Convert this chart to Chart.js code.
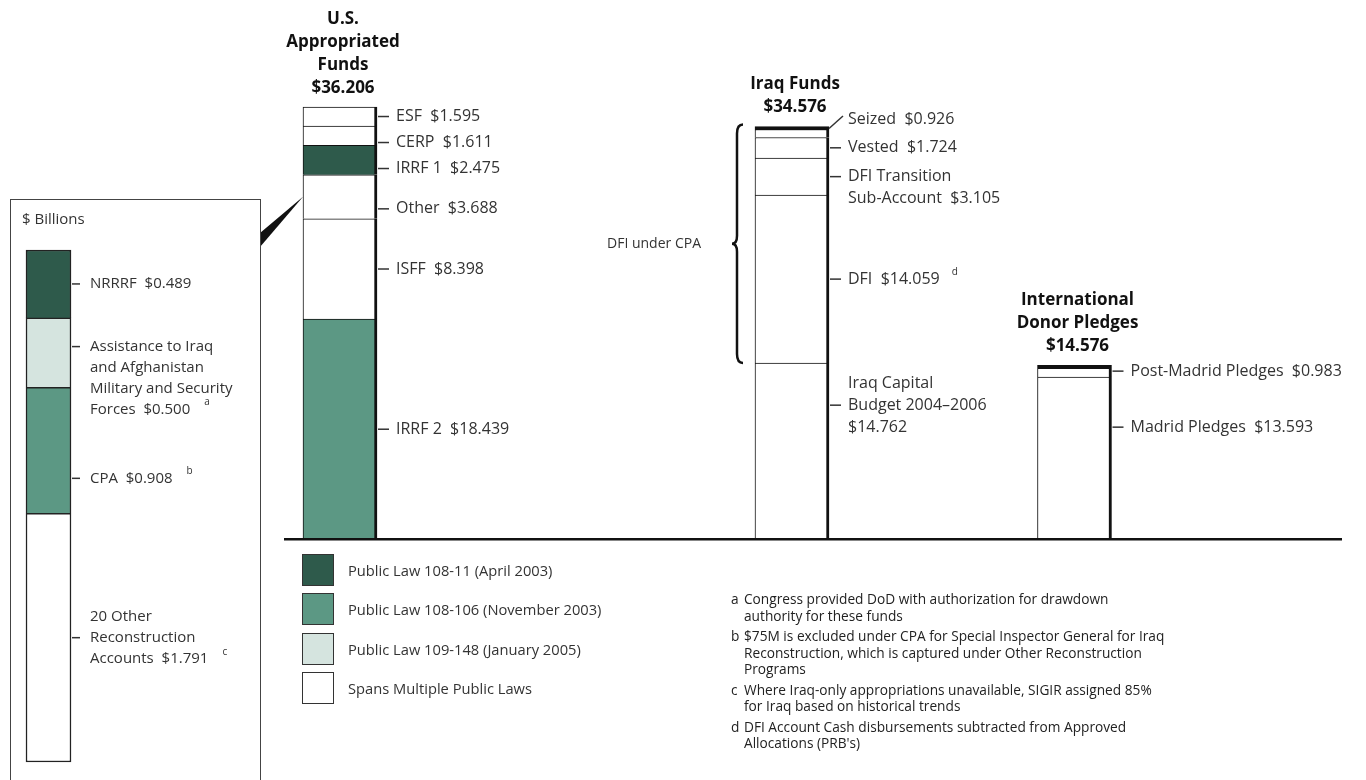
<!DOCTYPE html>
<html>
<head>
<meta charset="utf-8">
<script src="https://cdn.jsdelivr.net/npm/chart.js@4.4.0/dist/chart.umd.min.js"></script>
<style>
  html, body { margin: 0; padding: 0; background: #fff; width: 1366px; height: 780px; overflow: hidden; }
  body { position: relative; font-family: 'Open Sans', sans-serif; color: #333; }
  #main { position: absolute; left: 0; top: 0; }
  #insetBox { position: absolute; left: 10px; top: 199px; width: 251px; height: 640px; border: 1.5px solid #444; box-sizing: border-box; }
  #insetTitle { position: absolute; left: 11px; top: 8px; font-size: 15px; color: #333; }
  #inset { position: absolute; left: 0; top: 200px; }
  #legend { position: absolute; left: 302px; top: 554px; }
  .item { display: flex; align-items: center; height: 32px; margin-bottom: 7.3px; font-size: 14.7px; color: #333; }
  .swatch { width: 32px; height: 32px; box-sizing: border-box; border: 1.5px solid #333; margin-right: 14px; }
  #notes { position: absolute; left: 731px; top: 591px; font-size: 13.7px; line-height: 16.5px; color: #222; }
  .note { display: flex; margin-bottom: 4px; white-space: nowrap; }
  .note .letter { width: 13px; }
</style>
</head>
<body>
<canvas id="main" width="1366" height="780"></canvas>
<div id="insetBox"><div id="insetTitle">$ Billions</div></div>
<canvas id="inset" width="260" height="580"></canvas>
<div id="legend"></div>
<div id="notes"></div>
<script>
// categories (title lines) and where each bar sits on the category axis
const categories = [['U.S.', 'Appropriated', 'Funds'], ['Iraq Funds'], ['International', 'Donor Pledges']];
const barSlots = [0, 8, 13];
const slotCount = 14;

const lawNames = ['Public Law 108-11 (April 2003)', 'Public Law 108-106 (November 2003)',
  'Public Law 109-148 (January 2005)', 'Spans Multiple Public Laws'];
const lawColors = ['#2e5a4b', '#5c9884', '#d5e4df', '#ffffff'];

// stacks, bottom to top, $ billions
const usSegments = ['IRRF 2', 'ISFF', 'Other', 'IRRF 1', 'CERP', 'ESF'];
const usValues = [18.439, 8.398, 3.688, 2.475, 1.611, 1.595];
const usLaws = [1, 3, 3, 0, 3, 3];

const iraqSegments = ['Iraq Capital|Budget 2004–2006|', 'DFI', 'DFI Transition|Sub-Account', 'Vested', 'Seized'];
const iraqValues = [14.762, 14.059, 3.105, 1.724, 0.926];
const iraqNotes = ['', 'd', '', '', ''];

const donorSegments = ['Madrid Pledges', 'Post-Madrid Pledges'];
const donorValues = [13.593, 0.983];

// breakdown of "Other" shown in the box
const otherSegments = ['20 Other|Reconstruction|Accounts', 'CPA',
  'Assistance to Iraq|and Afghanistan|Military and Security|Forces', 'NRRRF'];
const otherValues = [1.791, 0.908, 0.500, 0.489];
const otherLaws = [3, 1, 2, 0];
const otherNotes = ['c', 'b', 'a', ''];

const noteLetters = ['a', 'b', 'c', 'd'];
const noteTexts = [
  ['Congress provided DoD with authorization for drawdown', 'authority for these funds'],
  ['$75M is excluded under CPA for Special Inspector General for Iraq',
   'Reconstruction, which is captured under Other Reconstruction', 'Programs'],
  ['Where Iraq-only appropriations unavailable, SIGIR assigned 85%', 'for Iraq based on historical trends'],
  ['DFI Account Cash disbursements subtracted from Approved', "Allocations (PRB's)"]
];

const money = v => '$' + v.toFixed(3);

function stackSets(slot, names, values, laws, notes, heavyTop) {
  return names.map((name, i) => {
    const data = new Array(slotCount).fill(null);
    data[slot] = values[i];
    return {
      label: name,
      data: data,
      note: notes ? notes[i] : '',
      backgroundColor: lawColors[laws ? laws[i] : 3],
      borderColor: '#111',
      borderWidth: { top: heavyTop && i === names.length - 1 ? 4 : 1, right: 3, bottom: 0, left: 1 },
      borderSkipped: false,
      stack: 'all',
      barThickness: 74,
      clip: false
    };
  });
}

// group bar elements by category slot, top segment first
function barGroups(chart) {
  const groups = {};
  chart.data.datasets.forEach((ds, i) => {
    const slot = ds.data.findIndex(v => v !== null);
    const el = chart.getDatasetMeta(i).data[slot];
    if (!groups[slot]) groups[slot] = [];
    groups[slot].push({ ds: ds, el: el, value: ds.data[slot] });
  });
  return Object.keys(groups).map(k => {
    groups[k].sort((a, b) => a.el.y - b.el.y);
    return { slot: +k, items: groups[k] };
  });
}

const segmentLabels = {
  id: 'segmentLabels',
  afterDatasetsDraw(chart, args, o) {
    const ctx = chart.ctx;
    ctx.save();
    ctx.textBaseline = 'middle';
    ctx.strokeStyle = '#333';
    ctx.lineWidth = 1.5;
    barGroups(chart).forEach(g => {
      let prevBottom = -Infinity;
      g.items.forEach(({ ds, el, value }) => {
        const lines = ds.label.split('|');
        const key = lines[0];
        const last = lines.length - 1;
        if (lines[last] === '') lines[last] = money(value);
        else lines[last] += '  ' + money(value);
        const anchor = o.anchorLine[key] || 0;
        let tickY = (el.y + el.base) / 2 + (o.tweaks[key] || 0);
        let topY = tickY - anchor * o.lineHeight;
        if (topY < prevBottom + o.gap) {
          topY = prevBottom + o.gap;
          tickY = topY + anchor * o.lineHeight;
        }
        prevBottom = topY + last * o.lineHeight;
        const right = el.x + el.width / 2;
        ctx.beginPath();
        if (o.diagonal === key) {
          ctx.moveTo(right, el.y + 2);
          ctx.lineTo(right + 14, tickY - 3);
        } else {
          ctx.moveTo(right + 1, tickY);
          ctx.lineTo(right + o.tickLen, tickY);
        }
        ctx.stroke();
        ctx.font = o.font;
        ctx.fillStyle = '#333';
        lines.forEach((t, k) => ctx.fillText(t, right + o.textGap, topY + k * o.lineHeight));
        if (ds.note) {
          const w = ctx.measureText(lines[last]).width;
          ctx.font = o.noteFont;
          ctx.fillText(ds.note, right + o.textGap + w + o.noteGap, topY + last * o.lineHeight - 7);
        }
      });
    });
    ctx.restore();
  }
};

const mainExtras = {
  id: 'mainExtras',
  afterDatasetsDraw(chart) {
    const ctx = chart.ctx;
    const y0 = chart.scales.y.getPixelForValue(0);
    const groups = barGroups(chart);
    ctx.save();
    // baseline
    ctx.strokeStyle = '#111';
    ctx.lineWidth = 2.5;
    ctx.beginPath();
    ctx.moveTo(284, y0);
    ctx.lineTo(1342, y0);
    ctx.stroke();
    // titles with totals
    ctx.fillStyle = '#111';
    ctx.font = 'bold 17px "Open Sans"';
    ctx.textAlign = 'center';
    ctx.textBaseline = 'middle';
    groups.forEach((g, gi) => {
      const top = g.items[0].el.y;
      const x = g.items[0].el.x + 3;
      const total = g.items.reduce((s, it) => s + it.value, 0);
      const lines = categories[gi].concat([money(total)]);
      lines.forEach((t, k) => ctx.fillText(t, x, top - 19 - (lines.length - 1 - k) * 23));
    });
    // brace over the DFI part of the Iraq bar
    const iraq = groups[1].items;
    const dfi = iraq.find(it => it.ds.label === 'DFI');
    const left = iraq[0].el.x - iraq[0].el.width / 2;
    const top = iraq[0].el.y - 2, bot = dfi.el.base, mid = (top + bot) / 2;
    const xe = left - 12, xs = left - 18, tip = left - 23;
    ctx.lineWidth = 2.5;
    ctx.beginPath();
    ctx.moveTo(xe, top);
    ctx.quadraticCurveTo(xs, top, xs, top + 9);
    ctx.lineTo(xs, mid - 8);
    ctx.quadraticCurveTo(xs, mid, tip, mid);
    ctx.quadraticCurveTo(xs, mid, xs, mid + 8);
    ctx.lineTo(xs, bot - 9);
    ctx.quadraticCurveTo(xs, bot, xe, bot);
    ctx.stroke();
    ctx.font = '14px "Open Sans"';
    ctx.fillStyle = '#333';
    ctx.textAlign = 'right';
    ctx.fillText('DFI under CPA', tip - 31, mid);
    // wedge from the inset box to the "Other" segment
    const other = groups[0].items.find(it => it.ds.label === 'Other');
    const usLeft = other.el.x - other.el.width / 2;
    const oy = (other.el.y + other.el.base) / 2;
    ctx.fillStyle = '#111';
    ctx.beginPath();
    ctx.moveTo(usLeft, oy);
    ctx.lineTo(260, 233);
    ctx.lineTo(260, 247);
    ctx.closePath();
    ctx.fill();
    ctx.restore();
  }
};

const labels = new Array(slotCount).fill('');
barSlots.forEach((s, i) => { labels[s] = categories[i].join(' '); });

new Chart(document.getElementById('main'), {
  type: 'bar',
  data: {
    labels: labels,
    datasets: [].concat(
      stackSets(barSlots[0], usSegments, usValues, usLaws, null, false),
      stackSets(barSlots[1], iraqSegments, iraqValues, null, iraqNotes, true),
      stackSets(barSlots[2], donorSegments, donorValues, null, null, true)
    )
  },
  options: {
    responsive: false,
    animation: false,
    devicePixelRatio: 1,
    events: [],
    layout: { padding: { left: 311.75, right: 263.25, top: 2, bottom: 240.7 } },
    plugins: {
      legend: { display: false },
      tooltip: { enabled: false },
      segmentLabels: {
        font: '16px "Open Sans"', noteFont: '10px "Open Sans"', noteGap: 12,
        lineHeight: 22, gap: 26, tickLen: 12, textGap: 19,
        tweaks: { 'Other': 12, 'Iraq Capital': -46, 'Seized': -13, 'Madrid Pledges': -31 },
        anchorLine: { 'Iraq Capital': 1 },
        diagonal: 'Seized'
      }
    },
    scales: {
      x: { display: false, stacked: true, offset: true },
      y: { display: false, stacked: true, min: 0, max: 45 }
    }
  },
  plugins: [segmentLabels, mainExtras]
});

// inset: breakdown of "Other"
new Chart(document.getElementById('inset'), {
  type: 'bar',
  data: {
    labels: ['Other'],
    datasets: otherSegments.map((name, i) => ({
      label: name,
      data: [otherValues[i]],
      note: otherNotes[i],
      backgroundColor: lawColors[otherLaws[i]],
      borderColor: '#222',
      borderWidth: { top: 1.5, right: 1.5, bottom: i === 0 ? 1.5 : 0, left: 1.5 },
      borderSkipped: false,
      stack: 'all',
      barThickness: 45,
      clip: false
    }))
  },
  options: {
    responsive: false,
    animation: false,
    devicePixelRatio: 1,
    events: [],
    layout: { padding: { left: 26, right: 189, top: 50, bottom: 18 } },
    plugins: {
      legend: { display: false },
      tooltip: { enabled: false },
      segmentLabels: {
        font: '15px "Open Sans"', noteFont: '10px "Open Sans"', noteGap: 14,
        lineHeight: 21, gap: 22, tickLen: 9, textGap: 19,
        tweaks: { 'Assistance to Iraq': -6, 'CPA': 28 },
        anchorLine: { '20 Other': 1 }
      }
    },
    scales: {
      x: { display: false, stacked: true, offset: true },
      y: { display: false, stacked: true, min: 0, max: otherValues.reduce((a, b) => a + b, 0) }
    }
  },
  plugins: [segmentLabels]
});

// legend of public laws
const legend = document.getElementById('legend');
lawNames.forEach((name, i) => {
  const item = document.createElement('div');
  item.className = 'item';
  item.innerHTML = '<div class="swatch" style="background:' + lawColors[i] + '"></div><span></span>';
  item.querySelector('span').textContent = name;
  legend.appendChild(item);
});

// footnotes
const notes = document.getElementById('notes');
noteLetters.forEach((letter, i) => {
  const row = document.createElement('div');
  row.className = 'note';
  const l = document.createElement('span');
  l.className = 'letter';
  l.textContent = letter;
  const t = document.createElement('span');
  t.innerHTML = noteTexts[i].map(s => s.replace(/&/g, '&amp;').replace(/</g, '&lt;')).join('<br>');
  row.appendChild(l);
  row.appendChild(t);
  notes.appendChild(row);
});
</script>
</body>
</html>
